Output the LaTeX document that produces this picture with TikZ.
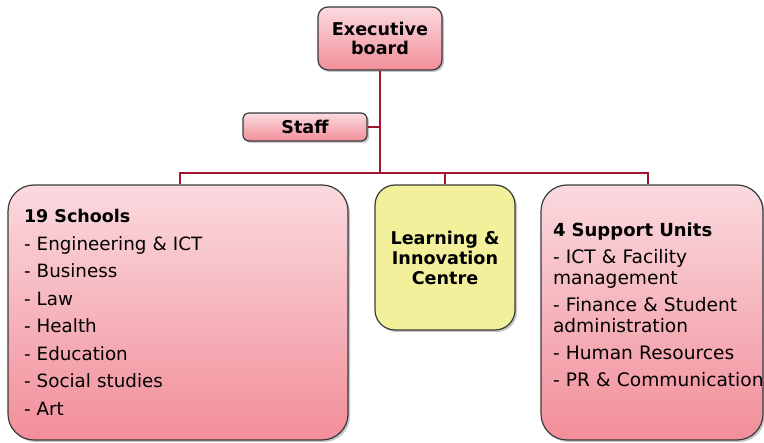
\documentclass[tikz,border=0pt]{standalone}
\usepackage{fontspec}
\setmainfont{DejaVu Sans}
\usetikzlibrary{shadows}
\definecolor{pinktop}{HTML}{FADADF}
\definecolor{pinkbot}{HTML}{F28E99}
\definecolor{yellowbox}{HTML}{F3F09C}
\definecolor{linered}{HTML}{A3152F}
\definecolor{boxborder}{HTML}{3A3A3A}
\begin{document}
\begin{tikzpicture}[x=1pt,y=-1pt,
  box/.style={draw=boxborder,line width=1.2pt,top color=pinktop,bottom color=pinkbot,
    drop shadow={shadow xshift=2pt,shadow yshift=-2pt,fill=black!45,opacity=0.5},inner sep=0pt},
  conn/.style={draw=linered,line width=2.6pt},
  schooltext/.style={font=\fontsize{18.3}{27.5}\selectfont},
  supporttext/.style={font=\fontsize{18.6}{21}\selectfont},
  headtext/.style={font=\bfseries\fontsize{17.6}{19.5}\selectfont}]
\useasboundingbox (0,0) rectangle (764,443);
\fill[white] (0,0) rectangle (764,443);
% nodes
\node[box,rounded corners=10pt,minimum width=124pt,minimum height=63pt,headtext,align=center] (exec) at (380,38.5) {Executive\\board};
\node[box,rounded corners=6pt,minimum width=124pt,minimum height=28pt,headtext] (staff) at (305,127) {Staff};
\node[box,rounded corners=26pt,minimum width=340pt,minimum height=255pt,schooltext,align=left,text width=308pt] (schools) at (178,312.5)
 {{\bfseries\fontsize{17.5}{27.5}\selectfont 19 Schools}\\
  - Engineering \& ICT\\
  - Business\\
  - Law\\
  - Health\\
  - Education\\
  - Social studies\\
  - Art};
\node[box,top color=yellowbox,bottom color=yellowbox,rounded corners=20pt,minimum width=140pt,minimum height=145pt,headtext,font=\bfseries\fontsize{17.6}{20}\selectfont,align=center] (lic) at (445,257.5)
 {Learning \&\\Innovation\\Centre};
\node[box,rounded corners=26pt,minimum width=222pt,minimum height=255pt,supporttext,align=left,text width=198pt] (support) at (652,312.5)
 {{\bfseries\fontsize{18}{21}\selectfont 4 Support Units}\\[6pt]
  - ICT \& Facility\\
  management\\[6pt]
  - Finance \& Student\\
  administration\\[6pt]
  - Human Resources\\[6pt]
  \mbox{- PR \& Communication}\\[-5pt]\mbox{}};
% connectors
\coordinate (busL) at (180,173);
\coordinate (busR) at (648,173);
\coordinate (busM) at (380,173);
\coordinate (licTop) at (445,173);
\draw[conn] (exec.south) -- (busM);
\draw[conn] (staff.east) -- (staff.east -| exec.south);
\draw[conn,line cap=rect] (busL) -- (busR);
\draw[conn] (busL) -- (busL |- schools.north);
\draw[conn] (licTop) -- (lic.north);
\draw[conn] (busR) -- (busR |- support.north);
\end{tikzpicture}
\end{document}
